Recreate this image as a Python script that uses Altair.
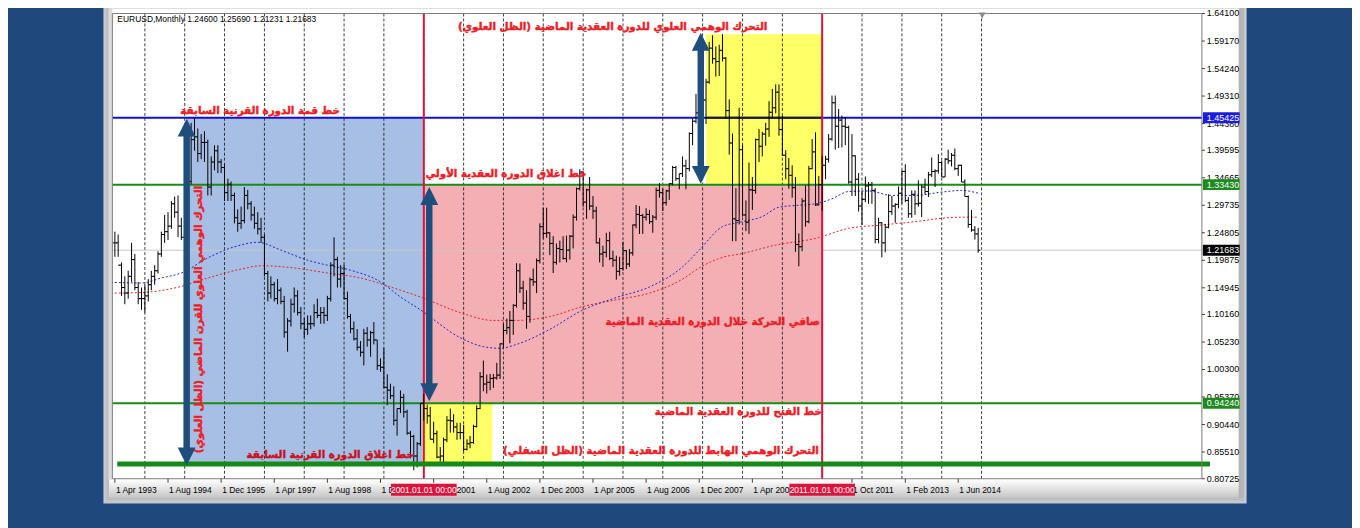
import altair as alt
import pandas as pd

# ---------------- monthly EURUSD bars, Apr 1993 .. Dec 2014 (one line per year) ----------------
OPEN = [
    1.2300, 1.2300, 1.1900, 1.1500, 1.1400, 1.1700, 1.2000, 1.1500, 1.1300,
    1.1300, 1.1350, 1.1550, 1.1700, 1.1800, 1.2100, 1.2450, 1.2500, 1.2600, 1.3000, 1.2850, 1.2600,
    1.2400, 1.2950, 1.3400, 1.4150, 1.4200, 1.3900, 1.4100, 1.4100, 1.3300, 1.3750, 1.3950, 1.3750,
    1.3650, 1.3200, 1.3350, 1.3150, 1.2750, 1.2650, 1.2700, 1.3150, 1.3000, 1.2800, 1.2650, 1.2550,
    1.2400, 1.1750, 1.1400, 1.1550, 1.1300, 1.1450, 1.1250, 1.0700, 1.0900, 1.1200, 1.1350, 1.1050,
    1.0850, 1.0750, 1.0850, 1.0850, 1.1050, 1.1000, 1.1050, 1.1000, 1.1300, 1.1900, 1.2000, 1.1650,
    1.1750, 1.1300, 1.0980, 1.0760, 1.0580, 1.0430, 1.0340, 1.0680, 1.0560, 1.0690, 1.0560, 1.0100,
    1.0070, 0.9710, 0.9660, 0.9560, 0.9120, 0.9330, 0.9530, 0.9270, 0.8890, 0.8830, 0.8480, 0.8700,
    0.9424, 0.9330, 0.9200, 0.8780, 0.8880, 0.8460, 0.8480, 0.8770, 0.9120, 0.9110, 0.9000, 0.8900,
    0.8900, 0.8600, 0.8700, 0.8720, 0.9010, 0.9330, 0.9900, 0.9770, 0.9800, 0.9870, 0.9880, 0.9930,
    1.0490, 1.0730, 1.0780, 1.0910, 1.1180, 1.1800, 1.1490, 1.1220, 1.0980, 1.1640, 1.1600, 1.1980,
    1.2590, 1.2470, 1.2480, 1.2290, 1.1950, 1.2200, 1.2180, 1.2020, 1.2170, 1.2420, 1.2760, 1.3270,
    1.3570, 1.3030, 1.3250, 1.2960, 1.2870, 1.2300, 1.2100, 1.2130, 1.2340, 1.2020, 1.1990, 1.1790,
    1.1840, 1.2160, 1.1920, 1.2120, 1.2620, 1.2810, 1.2790, 1.2760, 1.2810, 1.2680, 1.2760, 1.3240,
    1.3200, 1.3020, 1.3230, 1.3360, 1.3650, 1.3450, 1.3540, 1.3680, 1.3630, 1.4260, 1.4480, 1.4630,
    1.4590, 1.4860, 1.5180, 1.5790, 1.5600, 1.5550, 1.5750, 1.5610, 1.4670, 1.4090, 1.2730, 1.2700,
    1.3970, 1.2800, 1.2670, 1.3250, 1.3240, 1.4150, 1.4030, 1.4250, 1.4340, 1.4640, 1.4720, 1.5000,
    1.4330, 1.3870, 1.3630, 1.3510, 1.3290, 1.2270, 1.2230, 1.3050, 1.2680, 1.3630, 1.3930, 1.2980,
    1.3343, 1.3690, 1.3800, 1.4160, 1.4810, 1.4390, 1.4500, 1.4390, 1.4370, 1.3390, 1.3860, 1.3440,
    1.2960, 1.3080, 1.3320, 1.3340, 1.3240, 1.2360, 1.2660, 1.2300, 1.2580, 1.2860, 1.2960, 1.2990,
    1.3190, 1.3580, 1.3060, 1.2820, 1.3170, 1.3000, 1.3010, 1.3300, 1.3220, 1.3520, 1.3580, 1.3590,
    1.3740, 1.3480, 1.3800, 1.3770, 1.3870, 1.3630, 1.3690, 1.3390, 1.3130, 1.2630, 1.2530, 1.2460,
]
HIGH = [
    1.2500, 1.2450, 1.1950, 1.1700, 1.1800, 1.2300, 1.2100, 1.1600, 1.1500,
    1.1550, 1.1650, 1.1800, 1.1900, 1.2150, 1.2500, 1.2800, 1.2850, 1.3050, 1.3130, 1.3150, 1.2750,
    1.3050, 1.3450, 1.4450, 1.4543, 1.4350, 1.4250, 1.4300, 1.4150, 1.3850, 1.4050, 1.4050, 1.3800,
    1.3700, 1.3450, 1.3400, 1.3200, 1.2900, 1.2950, 1.3300, 1.3250, 1.3050, 1.2950, 1.2850, 1.2750,
    1.2450, 1.1800, 1.1700, 1.1600, 1.1650, 1.1500, 1.1350, 1.0950, 1.1300, 1.1500, 1.1450, 1.1150,
    1.0950, 1.1000, 1.1000, 1.1200, 1.1300, 1.1150, 1.1150, 1.1350, 1.1950, 1.2400, 1.2050, 1.1900,
    1.1905, 1.1425, 1.1025, 1.0890, 1.0755, 1.0540, 1.0760, 1.0790, 1.0720, 1.0880, 1.0560, 1.0230,
    1.0415, 0.9945, 0.9775, 0.9730, 0.9330, 0.9655, 0.9595, 0.9310, 0.8930, 0.8860, 0.8730, 0.9430,
    0.9595, 0.9400, 0.9360, 0.9095, 0.8935, 0.8640, 0.8810, 0.9195, 0.9330, 0.9230, 0.9075, 0.9075,
    0.9040, 0.8780, 0.8840, 0.9040, 0.9390, 0.9985, 1.0190, 0.9940, 0.9950, 0.9950, 1.0150, 1.0500,
    1.0850, 1.0940, 1.1080, 1.1200, 1.1935, 1.1930, 1.1620, 1.1450, 1.1680, 1.1840, 1.2020, 1.2650,
    1.2930, 1.2930, 1.2490, 1.2420, 1.2290, 1.2340, 1.2420, 1.2430, 1.2440, 1.2810, 1.3290, 1.3620,
    1.3580, 1.3270, 1.3480, 1.3140, 1.2950, 1.2390, 1.2250, 1.2480, 1.2500, 1.2160, 1.2070, 1.2050,
    1.2320, 1.2170, 1.2190, 1.2630, 1.2980, 1.2960, 1.2820, 1.2920, 1.2890, 1.2800, 1.3290, 1.3370,
    1.3270, 1.3250, 1.3370, 1.3680, 1.3680, 1.3540, 1.3850, 1.3790, 1.4280, 1.4530, 1.4970, 1.4760,
    1.4960, 1.5240, 1.5900, 1.6020, 1.5820, 1.5850, 1.6038, 1.5630, 1.4870, 1.4260, 1.3280, 1.4720,
    1.4060, 1.3060, 1.3740, 1.3480, 1.4170, 1.4340, 1.4290, 1.4450, 1.4840, 1.5060, 1.5140, 1.5140,
    1.4580, 1.3960, 1.3820, 1.3690, 1.3480, 1.2470, 1.3100, 1.3330, 1.3680, 1.4160, 1.4280, 1.3500,
    1.3860, 1.3860, 1.4250, 1.4940, 1.4940, 1.4700, 1.4580, 1.4550, 1.4400, 1.4250, 1.3870, 1.3550,
    1.3230, 1.3490, 1.3390, 1.3390, 1.3280, 1.2750, 1.2670, 1.2640, 1.3170, 1.3140, 1.3010, 1.3310,
    1.3600, 1.3710, 1.3120, 1.3240, 1.3240, 1.3420, 1.3340, 1.3450, 1.3570, 1.3830, 1.3620, 1.3890,
    1.3770, 1.3820, 1.3970, 1.3910, 1.3990, 1.3700, 1.3700, 1.3440, 1.3150, 1.2890, 1.2600, 1.2569,
]
LOW = [
    1.2050, 1.2050, 1.1350, 1.1200, 1.1300, 1.1600, 1.1450, 1.1200, 1.1100,
    1.1050, 1.1250, 1.1450, 1.1550, 1.1750, 1.2050, 1.2300, 1.2350, 1.2550, 1.2750, 1.2400, 1.2350,
    1.2300, 1.2850, 1.3350, 1.3950, 1.3750, 1.3800, 1.3750, 1.3150, 1.3150, 1.3600, 1.3550, 1.3550,
    1.3050, 1.3050, 1.3050, 1.2650, 1.2500, 1.2550, 1.2650, 1.2900, 1.2700, 1.2550, 1.2450, 1.2300,
    1.1700, 1.1250, 1.1300, 1.1250, 1.1200, 1.1200, 1.0600, 1.0350, 1.0800, 1.1050, 1.1000, 1.0750,
    1.0600, 1.0650, 1.0750, 1.0800, 1.0950, 1.0850, 1.0850, 1.0900, 1.1250, 1.1700, 1.1500, 1.1500,
    1.1290, 1.0940, 1.0680, 1.0550, 1.0370, 1.0260, 1.0105, 1.0440, 1.0260, 1.0480, 1.0020, 0.9990,
    0.9700, 0.9390, 0.9500, 0.9030, 0.8845, 0.9250, 0.9170, 0.8860, 0.8440, 0.8225, 0.8275, 0.8660,
    0.9110, 0.9060, 0.8775, 0.8710, 0.8440, 0.8380, 0.8345, 0.8730, 0.8900, 0.8900, 0.8770, 0.8780,
    0.8565, 0.8580, 0.8620, 0.8700, 0.8990, 0.9320, 0.9640, 0.9600, 0.9660, 0.9700, 0.9850, 0.9860,
    1.0420, 1.0660, 1.0500, 1.0650, 1.1140, 1.1400, 1.1100, 1.0760, 1.0870, 1.1530, 1.1400, 1.1930,
    1.2380, 1.2390, 1.2080, 1.1760, 1.1910, 1.1950, 1.2000, 1.1950, 1.2000, 1.2200, 1.2700, 1.3240,
    1.2950, 1.2730, 1.2890, 1.2730, 1.2290, 1.1950, 1.1870, 1.2040, 1.1990, 1.1870, 1.1640, 1.1710,
    1.1800, 1.1830, 1.1870, 1.2070, 1.2560, 1.2460, 1.2460, 1.2700, 1.2640, 1.2480, 1.2710, 1.3110,
    1.2870, 1.2970, 1.3070, 1.3330, 1.3410, 1.3260, 1.3480, 1.3260, 1.3580, 1.4050, 1.4440, 1.4320,
    1.4520, 1.4430, 1.5150, 1.5510, 1.5280, 1.5290, 1.5550, 1.4520, 1.3880, 1.2330, 1.2330, 1.2630,
    1.2770, 1.2510, 1.2460, 1.2890, 1.3180, 1.3750, 1.3850, 1.4040, 1.4200, 1.4550, 1.4620, 1.4220,
    1.3860, 1.3440, 1.3270, 1.3110, 1.2140, 1.1880, 1.2150, 1.2590, 1.2650, 1.3620, 1.2960, 1.2970,
    1.2870, 1.3440, 1.3740, 1.4130, 1.3970, 1.4000, 1.4010, 1.4050, 1.3360, 1.3140, 1.3140, 1.2860,
    1.2620, 1.3030, 1.3000, 1.3000, 1.2290, 1.2290, 1.2040, 1.2130, 1.2560, 1.2800, 1.2660, 1.2920,
    1.3000, 1.3030, 1.2750, 1.2750, 1.2800, 1.2950, 1.2760, 1.3170, 1.3120, 1.3480, 1.3300, 1.3540,
    1.3480, 1.3480, 1.3710, 1.3670, 1.3600, 1.3500, 1.3390, 1.3130, 1.2570, 1.2500, 1.2360, 1.2123,
]
CLOSE = [
    1.2300, 1.1900, 1.1500, 1.1400, 1.1700, 1.2000, 1.1500, 1.1300, 1.1300,
    1.1350, 1.1550, 1.1700, 1.1800, 1.2100, 1.2450, 1.2500, 1.2600, 1.3000, 1.2850, 1.2600, 1.2400,
    1.2950, 1.3400, 1.4150, 1.4200, 1.3900, 1.4100, 1.4100, 1.3300, 1.3750, 1.3950, 1.3750, 1.3650,
    1.3200, 1.3350, 1.3150, 1.2750, 1.2650, 1.2700, 1.3150, 1.3000, 1.2800, 1.2650, 1.2550, 1.2400,
    1.1750, 1.1400, 1.1550, 1.1300, 1.1450, 1.1250, 1.0700, 1.0900, 1.1200, 1.1350, 1.1050, 1.0850,
    1.0750, 1.0850, 1.0850, 1.1050, 1.1000, 1.1050, 1.1000, 1.1300, 1.1900, 1.2000, 1.1650, 1.1750,
    1.1300, 1.0980, 1.0760, 1.0580, 1.0430, 1.0340, 1.0680, 1.0560, 1.0690, 1.0560, 1.0100, 1.0070,
    0.9710, 0.9660, 0.9560, 0.9120, 0.9330, 0.9530, 0.9270, 0.8890, 0.8830, 0.8480, 0.8700, 0.9424,
    0.9330, 0.9200, 0.8780, 0.8880, 0.8460, 0.8480, 0.8770, 0.9120, 0.9110, 0.9000, 0.8900, 0.8900,
    0.8600, 0.8700, 0.8720, 0.9010, 0.9330, 0.9900, 0.9770, 0.9800, 0.9870, 0.9880, 0.9930, 1.0490,
    1.0730, 1.0780, 1.0910, 1.1180, 1.1800, 1.1490, 1.1220, 1.0980, 1.1640, 1.1600, 1.1980, 1.2590,
    1.2470, 1.2480, 1.2290, 1.1950, 1.2200, 1.2180, 1.2020, 1.2170, 1.2420, 1.2760, 1.3270, 1.3570,
    1.3030, 1.3250, 1.2960, 1.2870, 1.2300, 1.2100, 1.2130, 1.2340, 1.2020, 1.1990, 1.1790, 1.1840,
    1.2160, 1.1920, 1.2120, 1.2620, 1.2810, 1.2790, 1.2760, 1.2810, 1.2680, 1.2760, 1.3240, 1.3200,
    1.3020, 1.3230, 1.3360, 1.3650, 1.3450, 1.3540, 1.3680, 1.3630, 1.4260, 1.4480, 1.4630, 1.4590,
    1.4860, 1.5180, 1.5790, 1.5600, 1.5550, 1.5750, 1.5610, 1.4670, 1.4090, 1.2730, 1.2700, 1.3970,
    1.2800, 1.2670, 1.3250, 1.3240, 1.4150, 1.4030, 1.4250, 1.4340, 1.4640, 1.4720, 1.5000, 1.4330,
    1.3870, 1.3630, 1.3510, 1.3290, 1.2270, 1.2230, 1.3050, 1.2680, 1.3630, 1.3930, 1.2980, 1.3343,
    1.3690, 1.3800, 1.4160, 1.4810, 1.4390, 1.4500, 1.4390, 1.4370, 1.3390, 1.3860, 1.3440, 1.2960,
    1.3080, 1.3320, 1.3340, 1.3240, 1.2360, 1.2660, 1.2300, 1.2580, 1.2860, 1.2960, 1.2990, 1.3190,
    1.3580, 1.3060, 1.2820, 1.3170, 1.3000, 1.3010, 1.3300, 1.3220, 1.3520, 1.3580, 1.3590, 1.3740,
    1.3480, 1.3800, 1.3770, 1.3870, 1.3630, 1.3690, 1.3390, 1.3130, 1.2630, 1.2530, 1.2460, 1.21683,
]

# moving averages (dotted lines)
BLUE_MA_DATES = ["1993-04-01", "1993-12-01", "1994-06-01", "1994-12-01", "1995-08-01", "1996-04-01",
                 "1996-11-01", "1997-06-01", "1998-02-01", "1998-08-01", "1999-03-01", "1999-12-01",
                 "2000-06-01", "2000-12-01", "2001-12-01", "2002-07-01", "2002-12-01", "2003-05-01",
                 "2004-03-01", "2005-01-01", "2005-11-01", "2006-09-01", "2007-07-01", "2007-12-01",
                 "2008-07-01", "2009-01-01", "2009-07-01", "2009-12-01", "2010-05-01", "2010-11-01",
                 "2011-04-01", "2011-09-01", "2012-03-01", "2012-10-01", "2013-05-01", "2014-01-01",
                 "2014-07-01", "2014-12-01"]
BLUE_MA_VALUES = [1.159, 1.158, 1.167, 1.176, 1.203, 1.223, 1.231, 1.217, 1.199, 1.190, 1.181, 1.160,
                  1.133, 1.110, 1.060, 1.044, 1.041, 1.048, 1.075, 1.110, 1.132, 1.151, 1.187, 1.217,
                  1.259, 1.268, 1.277, 1.294, 1.297, 1.300, 1.309, 1.322, 1.323, 1.315, 1.315, 1.321,
                  1.324, 1.319]
RED_MA_DATES = ["1993-04-01", "1993-12-01", "1994-12-01", "1995-08-01", "1996-06-01", "1996-12-01",
                "1997-10-01", "1998-08-01", "1999-06-01", "2000-04-01", "2000-12-01", "2001-12-01",
                "2002-10-01", "2003-05-01", "2004-03-01", "2005-01-01", "2005-11-01", "2006-09-01",
                "2007-07-01", "2007-12-01", "2008-07-01", "2009-01-01", "2009-11-01", "2010-11-01",
                "2011-09-01", "2012-07-01", "2013-05-01", "2014-01-01", "2014-07-01", "2014-12-01"]
RED_MA_VALUES = [1.140, 1.141, 1.152, 1.167, 1.183, 1.189, 1.185, 1.176, 1.167, 1.149, 1.133, 1.105,
                 1.091, 1.091, 1.098, 1.116, 1.128, 1.140, 1.165, 1.185, 1.204, 1.211, 1.226, 1.238,
                 1.256, 1.262, 1.268, 1.274, 1.276, 1.276]

# horizontal levels
LEVELS = [1.45425, 1.33430, 0.94240]
LEVEL_COLORS = ["#1010d4", "#178c17", "#178c17"]
CURRENT_PRICE = 1.21683
BOTTOM_SHADOW = 0.8335
BOTTOM_SHADOW_START, BOTTOM_SHADOW_END = "1993-04-23", "2020-09-25"
DECADE_LINES = ["2001-01-01", "2011-01-01"]
DECADE_LABELS = ["2001.01.01 00:00", "2011.01.01 00:00"]

# shaded zones
ZONE_START = ["1995-01-20", "2001-01-01", "2000-12-20", "2008-02-03"]
ZONE_END = ["2001-01-01", "2011-01-01", "2002-09-20", "2011-01-01"]
ZONE_LOW = [0.8340, 0.94240, 0.8340, 1.33430]
ZONE_HIGH = [1.45425, 1.33430, 0.94240, 1.6038]
ZONE_COLORS = ["#a7bfe4", "#f4afb5", "#ffff66", "#ffff66"]

# double arrows
ARROW_DATES = ["1995-01-19", "2001-02-20", "2007-12-15"]
ARROW_TOP = [1.4525, 1.3300, 1.6064]
ARROW_BOTTOM = [0.8310, 0.9463, 1.3358]

# annotations
RLM = "\u200f"
NOTE_TEXT = [
    "خط قمة الدورة القرنية السابقة",
    "التحرك الوهمي العلوي للدورة العقدية الماضية (الظل العلوي)" + RLM,
    "خط اغلاق الدورة العقدية الأولي",
    "صافي الحركة خلال الدورة العقدية الماضية",
    "خط الفتح للدورة العقدية الماضية",
    "التحرك الوهمي الهابط للدورة العقدية الماضية (الظل السفلي)" + RLM,
    "خط اغلاق الدورة القرنية السابقة",
]
NOTE_DATE = ["1998-11-25", "2009-08-17", "2005-02-01", "2010-12-10", "2010-12-31", "2010-12-02", "2000-10-03"]
NOTE_PRICE = [1.4668, 1.6165, 1.3527, 1.0880, 0.9267, 0.8563, 0.8491]
NOTE_COLOR = ["#ee1c24", "#ee1c24", "#ee1c24", "#ee1c24", "#ee1c24", "#ee1c24", "#c8121c"]
VNOTE_TEXT = "التحرك الوهمي العلوي للقرن الماضي (الظل العلوي)" + RLM
VNOTE_DATE, VNOTE_PRICE = "1995-05-10", 1.0925

# axes
Y_TICKS = [0.80725, 0.85510, 0.90440, 0.95370, 1.00300, 1.05230, 1.10160, 1.14945, 1.19875,
           1.24805, 1.29735, 1.34665, 1.39595, 1.44380, 1.49310, 1.54240, 1.59170, 1.64100]
PRICE_TAGS = [1.45425, 1.33430, 1.21683, 0.94240]
PRICE_TAG_COLORS = ["#1c1ce0", "#1e8a1e", "#000000", "#1e8a1e"]
X_TICK_DATES = ["1993-04-01", "1994-08-01", "1995-12-01", "1997-04-01", "1998-08-01", "1999-12-01",
                "2001-04-01", "2002-08-01", "2003-12-01", "2005-04-01", "2006-08-01", "2007-12-01",
                "2009-04-01", "2011-10-01", "2013-02-01", "2014-06-01"]
X_TICK_LABELS = ["1 Apr 1993", "1 Aug 1994", "1 Dec 1995", "1 Apr 1997", "1 Aug 1998", "1 Dec 1999",
                 "1 Apr 2001", "1 Aug 2002", "1 Dec 2003", "1 Apr 2005", "1 Aug 2006", "1 Dec 2007",
                 "1 Apr 2009", "1 Oct 2011", "1 Feb 2013", "1 Jun 2014"]
GRID_YEARS = list(range(1994, 2016))
TITLE = "EURUSD,Monthly  1.24600 1.25690 1.21231 1.21683"

# ---------------- layout ----------------
W, H = 1096, 468
X0, Y0 = 113, 12          # page position of the plot area
BG = "#1f497d"
ARROW_C = "#1f4e7c"
AX_FONT = "Liberation Sans"
AR_FONT = "DejaVu Sans"
AR_SIZE = 10.4

n = len(CLOSE)
assert len(OPEN) == len(HIGH) == len(LOW) == n
dates = []
yy, mm = 1993, 4
for _ in range(n):
    dates.append(f"{yy:04d}-{mm:02d}-01")
    mm += 1
    if mm > 12:
        mm, yy = 1, yy + 1
bars = pd.DataFrame({"d": dates, "o": OPEN, "h": HIGH, "l": LOW, "c": CLOSE})

xs = alt.Scale(type="utc", domain=[alt.DateTime(year=1993, month=3, date=9, utc=True),
                                   alt.DateTime(year=2020, month=7, date=13, utc=True)])
ys = alt.Scale(domain=[0.80725, 1.641], zero=False, nice=False)


def X(f):
    return alt.X(f"{f}:T", scale=xs, axis=None)


def Y(f):
    return alt.Y(f"{f}:Q", scale=ys, axis=None)


one = pd.DataFrame({"k": [0]})


def page_rect(x1, y1, x2, y2, fill):
    return alt.Chart(one).mark_rect(fill=fill).encode(
        x=alt.value(x1 - X0), x2=alt.value(x2 - X0), y=alt.value(y1 - Y0), y2=alt.value(y2 - Y0))


layers = []
# window frame
layers.append(page_rect(104, 2, 1254, 505, "#c4c9d0"))
layers.append(page_rect(107, 4, 1251, 502, "#bdbdbd"))
layers.append(page_rect(110, 7, 1247, 498, "#ffffff"))
grad = alt.Gradient(gradient="linear", x1=0, x2=0, y1=0, y2=1,
                    stops=[alt.GradientStop(color="#ffffff", offset=0),
                           alt.GradientStop(color="#c6c6c6", offset=1)])
layers.append(alt.Chart(one).mark_rect(fill=grad).encode(
    x=alt.value(110 - X0), x2=alt.value(1247 - X0), y=alt.value(481 - Y0), y2=alt.value(499 - Y0)))
layers.append(page_rect(109, 7, 113, 481, "#dcdcdc"))
layers.append(page_rect(1246, 7, 1251, 499, "#b4b4b4"))

# zones
zones = pd.DataFrame({"s": ZONE_START, "e": ZONE_END, "lo": ZONE_LOW, "hi": ZONE_HIGH, "col": ZONE_COLORS})
layers.append(alt.Chart(zones).mark_rect().encode(
    x=X("s"), x2=alt.X2("e"), y=Y("hi"), y2=alt.Y2("lo"), color=alt.Color("col:N", scale=None)))

# vertical grid
grid = pd.DataFrame({"d": [f"{g}-01-01" for g in GRID_YEARS]})
layers.append(alt.Chart(grid).mark_rule(color="#1a1a1a", strokeWidth=1, strokeDash=[3, 2], opacity=0.85)
              .encode(x=X("d")))

# current price line
layers.append(alt.Chart(pd.DataFrame({"p": [CURRENT_PRICE]})).mark_rule(color="#c8c8c8", strokeWidth=1)
              .encode(y=Y("p")))

# moving averages
bma = pd.DataFrame({"d": BLUE_MA_DATES, "v": BLUE_MA_VALUES})
rma = pd.DataFrame({"d": RED_MA_DATES, "v": RED_MA_VALUES})
layers.append(alt.Chart(rma).mark_line(color="#e02424", strokeWidth=1, strokeDash=[2, 2], interpolate="monotone")
              .encode(x=X("d"), y=Y("v")))
layers.append(alt.Chart(bma).mark_line(color="#2424c8", strokeWidth=1, strokeDash=[2, 2], interpolate="monotone")
              .encode(x=X("d"), y=Y("v")))

# horizontal level lines
lv = pd.DataFrame({"p": LEVELS, "col": LEVEL_COLORS})
layers.append(alt.Chart(lv).mark_rule(strokeWidth=2).encode(y=Y("p"), color=alt.Color("col:N", scale=None)))
# the blue level looks dark where it crosses the upper yellow zone
seg = pd.DataFrame({"s": [ZONE_START[3]], "e": [ZONE_END[3]], "p": [LEVELS[0]]})
layers.append(alt.Chart(seg).mark_rule(strokeWidth=2, color="#1e1e1e").encode(x=X("s"), x2=alt.X2("e"), y=Y("p")))

# decade lines
dl = pd.DataFrame({"d": DECADE_LINES, "lab": DECADE_LABELS})
layers.append(alt.Chart(dl).mark_rule(color="#dc143c", strokeWidth=2).encode(x=X("d")))

# OHLC bars
layers.append(alt.Chart(bars).mark_rule(color="#000000", strokeWidth=1).encode(x=X("d"), y=Y("l"), y2=alt.Y2("h")))
layers.append(alt.Chart(bars).mark_rule(color="#000000", strokeWidth=1, xOffset=-2)
              .encode(x=X("d"), x2=alt.X2("d"), y=Y("o")))
layers.append(alt.Chart(bars).mark_rule(color="#000000", strokeWidth=1, x2Offset=2)
              .encode(x=X("d"), x2=alt.X2("d"), y=Y("c")))

# thick bottom shadow line
bs = pd.DataFrame({"s": [BOTTOM_SHADOW_START], "e": [BOTTOM_SHADOW_END], "p": [BOTTOM_SHADOW]})
layers.append(alt.Chart(bs).mark_rule(strokeWidth=5, color="#168a16").encode(x=X("s"), x2=alt.X2("e"), y=Y("p")))

# arrows
ar = pd.DataFrame({"d": ARROW_DATES, "t": ARROW_TOP, "b": ARROW_BOTTOM})
layers.append(alt.Chart(ar).mark_rule(color=ARROW_C, strokeWidth=6.5, yOffset=14, y2Offset=-14)
              .encode(x=X("d"), y=Y("t"), y2=alt.Y2("b")))
layers.append(alt.Chart(ar).mark_point(shape="M0,0L-1,2L1,2Z", size=324, filled=True, opacity=1,
                                       color=ARROW_C, strokeWidth=0).encode(x=X("d"), y=Y("t")))
layers.append(alt.Chart(ar).mark_point(shape="M0,0L-1,-2L1,-2Z", size=324, filled=True, opacity=1,
                                       color=ARROW_C, strokeWidth=0).encode(x=X("d"), y=Y("b")))

# annotations (bold red Arabic text, slightly heavier with a thin same-colour outline)
notes = pd.DataFrame({"t": NOTE_TEXT, "d": NOTE_DATE, "p": NOTE_PRICE, "col": NOTE_COLOR})
layers.append(alt.Chart(notes).mark_text(font=AR_FONT, fontWeight="bold", fontSize=AR_SIZE, align="right",
                                         baseline="middle", strokeWidth=0.45).encode(
    x=X("d"), y=Y("p"), text="t:N", color=alt.Color("col:N", scale=None),
    stroke=alt.Stroke("col:N", scale=None)))
vn = pd.DataFrame({"t": [VNOTE_TEXT], "d": [VNOTE_DATE], "p": [VNOTE_PRICE]})
layers.append(alt.Chart(vn).mark_text(font=AR_FONT, fontWeight="bold", fontSize=AR_SIZE, align="center",
                                      baseline="middle", angle=270, color="#ee1c24", stroke="#ee1c24",
                                      strokeWidth=0.45).encode(
    x=X("d"), y=Y("p"), text="t:N"))

# plot border
layers.append(alt.Chart(one).mark_rect(fillOpacity=0, stroke="#7c7c7c", strokeWidth=1).encode(
    x=alt.value(0), x2=alt.value(W), y=alt.value(0), y2=alt.value(H)))

# right price axis
yt = pd.DataFrame({"v": Y_TICKS})
layers.append(alt.Chart(yt).mark_rule(color="#404040").encode(x=alt.value(W), x2=alt.value(W + 3), y=Y("v")))
layers.append(alt.Chart(yt).mark_text(font=AX_FONT, fontSize=9, align="left", baseline="middle", color="#000")
              .encode(x=alt.value(W + 5), y=Y("v"), text=alt.Text("v:Q", format=".5f")))
tags = pd.DataFrame({"v": PRICE_TAGS, "col": PRICE_TAG_COLORS})
layers.append(alt.Chart(tags).mark_rect(yOffset=-5.5, y2Offset=5.5).encode(
    x=alt.value(W + 1), x2=alt.value(W + 38), y=Y("v"), y2=alt.Y2("v"), color=alt.Color("col:N", scale=None)))
layers.append(alt.Chart(tags).mark_text(font=AX_FONT, fontSize=9, align="left", baseline="middle", color="#fff")
              .encode(x=alt.value(W + 5), y=Y("v"), text=alt.Text("v:Q", format=".5f")))

# bottom date axis
xt = pd.DataFrame({"d": X_TICK_DATES, "lab": X_TICK_LABELS})
layers.append(alt.Chart(xt).mark_rule(color="#404040").encode(x=X("d"), y=alt.value(H), y2=alt.value(H + 4)))
layers.append(alt.Chart(xt).mark_text(font=AX_FONT, fontSize=8.5, align="left", baseline="middle", dx=1,
                                      color="#000").encode(x=X("d"), y=alt.value(H + 11), text="lab:N"))
layers.append(alt.Chart(dl).mark_rect(color="#dc143c", xOffset=-33, x2Offset=33).encode(
    x=X("d"), x2=alt.X2("d"), y=alt.value(H + 5), y2=alt.value(H + 17)))
layers.append(alt.Chart(dl).mark_text(font=AX_FONT, fontSize=8.5, align="center", baseline="middle",
                                      color="#ffffff").encode(x=X("d"), y=alt.value(H + 11), text="lab:N"))

# title and chart-shift marker
layers.append(alt.Chart(pd.DataFrame({"t": [TITLE]})).mark_text(
    font=AX_FONT, fontSize=8.5, align="left", baseline="middle", color="#000").encode(
    x=alt.value(5), y=alt.value(6), text="t:N"))
layers.append(alt.Chart(one).mark_point(shape="triangle-down", size=45, filled=True, color="#8c8c8c", opacity=1)
              .encode(x=alt.value(875), y=alt.value(2)))

chart = alt.layer(*layers).properties(
    width=W, height=H,
    autosize=alt.AutoSizeParams(type="none"),
    padding={"left": X0 - 8, "top": Y0 - 8, "right": 1360 - (X0 + W), "bottom": 528 - (Y0 + H)},
    background=BG,
).configure_view(strokeWidth=0)

chart.save("out.html", embed_options={"renderer": "svg", "actions": False})
